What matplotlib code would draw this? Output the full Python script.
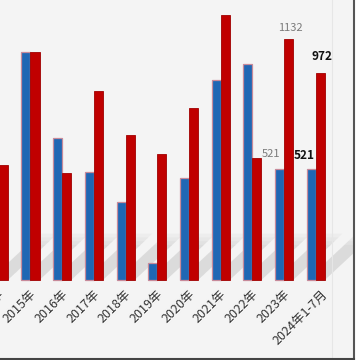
import matplotlib
matplotlib.use('Agg')
import matplotlib.pyplot as plt
from matplotlib.patches import Polygon
from matplotlib.lines import Line2D
from matplotlib.patches import Rectangle

plt.rcParams['font.family'] = ['Noto Sans CJK SC', 'DejaVu Sans']

# Data (first group is cut off at the left edge)
years = ['2014年', '2015年', '2016年', '2017年', '2018年', '2019年',
         '2020年', '2021年', '2022年', '2023年', '2024年1-7月']
blue_vals = [0, 1071, 667, 507, 366, 80, 479, 939, 1015, 521, 521]
red_vals = [540, 1071, 503, 888, 681, 592, 808, 1245, 573, 1132, 972]

BLUE = '#1f67b4'
RED = '#c00000'
BG = '#f4f4f4'

fig = plt.figure(figsize=(3.6, 3.6), dpi=100)
fig.patch.set_facecolor(BG)
ax = fig.add_axes([0, 0, 1, 1])
ax.set_facecolor(BG)

w = 0.285
xs = list(range(len(years)))

# soft diagonal shadows behind the bars
for i in xs:
    top = max(blue_vals[i], red_vals[i])
    h = min(top, 220)
    for k in range(4):
        d = 1.2 + 0.12 * k
        hh = h * (0.75 + 0.08 * k)
        poly = Polygon([(i - w, 0), (i + w, 0), (i + w + d, hh), (i - w + d, hh)],
                       closed=True, facecolor='#7a7a7a', edgecolor='none',
                       alpha=0.05, zorder=1)
        ax.add_patch(poly)

ax.bar([x - w / 2 for x in xs], blue_vals, width=w, color=BLUE,
       edgecolor='#c88a9a', linewidth=0.9, zorder=3)
ax.bar([x + w / 2 for x in xs], red_vals, width=w, color=RED,
       edgecolor='#a00000', linewidth=0.6, zorder=3)

ax.set_xlim(0.038, 11.394)
ax.set_ylim(-376, 1315)
ax.axis('off')

# category labels
for i, lab in enumerate(years):
    dx = 7 if i == len(years) - 1 else 2.5
    ax.annotate(lab, xy=(i, 0), xytext=(dx, -9), textcoords='offset points',
                rotation=45, rotation_mode='anchor', ha='right', va='center',
                fontsize=9, color='#333333', annotation_clip=False)

# value labels
ax.annotate(str(blue_vals[9]), xy=(9 - w / 2, blue_vals[9]), xytext=(-6, 11),
            textcoords='offset points', ha='center', va='center',
            fontsize=8, color='#7a7a7a')
ax.annotate(str(red_vals[9]), xy=(9 + w / 2, red_vals[9]), xytext=(1, 8),
            textcoords='offset points', ha='center', va='center',
            fontsize=8, color='#7a7a7a')
ax.annotate(str(blue_vals[10]), xy=(10 - w / 2, blue_vals[10]), xytext=(-5, 10),
            textcoords='offset points', ha='center', va='center',
            fontsize=8.5, color='#111111', fontweight='bold')
ax.annotate(str(red_vals[10]), xy=(10 + w / 2, red_vals[10]), xytext=(1, 12),
            textcoords='offset points', ha='center', va='center',
            fontsize=8.5, color='#111111', fontweight='bold')

# frame on the right and bottom
fig.add_artist(Rectangle((355 / 360, 0), 5 / 360, 1, transform=fig.transFigure,
                         facecolor='white', edgecolor='none', zorder=5))
fig.add_artist(Line2D([332 / 360, 332 / 360], [2 / 360, 1], transform=fig.transFigure,
                      color='#e6e6e6', linewidth=0.8, zorder=4))
fig.add_artist(Line2D([354 / 360, 354 / 360], [1.5 / 360, 1], transform=fig.transFigure,
                      color='#555555', linewidth=1.5, zorder=6))
fig.add_artist(Line2D([0, 354 / 360], [1.5 / 360, 1.5 / 360], transform=fig.transFigure,
                      color='#444444', linewidth=1.5, zorder=6))

fig.savefig('out.png', dpi=100, facecolor=BG)
